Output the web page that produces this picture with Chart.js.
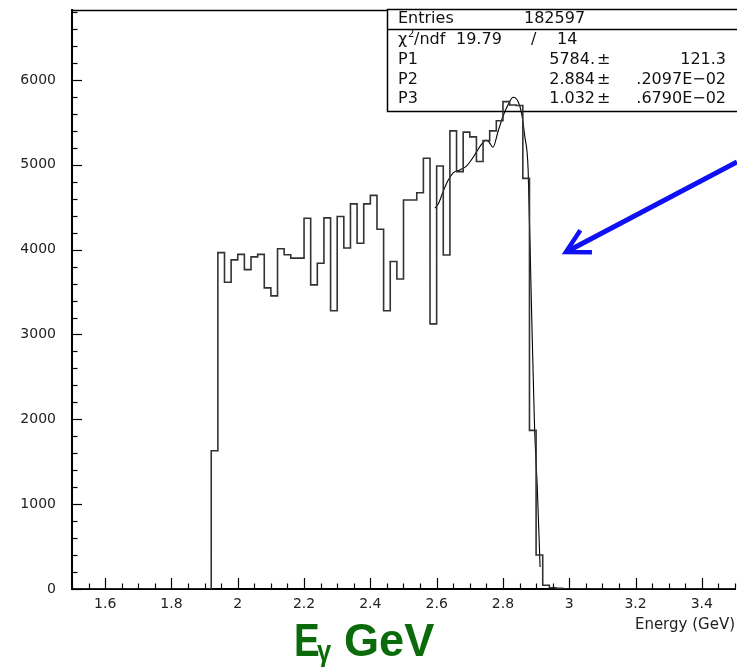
<!DOCTYPE html>
<html><head><meta charset="utf-8">
<script src="https://cdn.jsdelivr.net/npm/chart.js@4.4.0/dist/chart.umd.min.js"></script>
<style>html,body{margin:0;padding:0;background:#fff;}canvas{display:block;}</style>
</head><body>
<canvas id="c" width="737" height="667" style="width:737px;height:667px"></canvas>
<script>
// ---- data ----
const binLowEdges = [1.92,1.94,1.96,1.98,2.00,2.02,2.04,2.06,2.08,2.10,2.12,2.14,2.16,2.18,
  2.20,2.22,2.24,2.26,2.28,2.30,2.32,2.34,2.36,2.38,2.40,2.42,2.44,2.46,2.48,
  2.50,2.52,2.54,2.56,2.58,2.60,2.62,2.64,2.66,2.68,2.70,2.72,2.74,2.76,2.78,
  2.80,2.82,2.84,2.86,2.88,2.90,2.92,2.94,2.96];
const binCounts = [1630,3965,3615,3880,3945,3765,3915,3945,3550,3455,4010,3940,3900,3900,
  4370,3585,3840,4375,3280,4390,4020,4540,4075,4540,4640,4240,3280,3860,3655,
  4586,4586,4670,5077,3125,4986,3937,5400,4920,5385,5330,5040,5285,5400,5520,
  5745,5705,5700,4840,1870,400,45,15,8];
const binWidth = 0.02;
const fitEnergy = [2.595,2.605,2.62,2.635,2.65,2.67,2.69,2.705,2.72,2.735,2.748,2.757,2.770,
  2.785,2.80,2.815,2.831,2.846,2.856,2.866,2.876,2.885,2.895,2.904,2.912];
const fitValues = [4490,4540,4690,4820,4905,4940,4985,5060,5150,5240,5290,5275,5207,
  5390,5570,5705,5796,5744,5608,5332,4939,3500,1950,1150,260];
const xTickLabels = [1.6,1.8,2.0,2.2,2.4,2.6,2.8,3.0,3.2,3.4];
const yTickLabels = [0,1000,2000,3000,4000,5000,6000];
const xRange = [1.5, 3.5];
const yMax = 6825;
const statsEntries = ['Entries', '182597'];
const statsChi = ['19.79', '/', '14'];
const statsParams = [['P1','5784.','121.3'],['P2','2.884','.2097E\u221202'],['P3','1.032','.6790E\u221202']];
const arrowFrom = {x: 3.506, y: 5034};
const arrowTo = {x: 2.99, y: 3973};
const xAxisTitle = 'Energy (GeV)';

// ---- build datasets ----
const histData = [{x: xRange[0], y: 0}];
binLowEdges.forEach((e, i) => histData.push({x: e, y: binCounts[i]}));
histData.push({x: binLowEdges[binLowEdges.length - 1] + binWidth, y: 0});
histData.push({x: xRange[1], y: 0});
const fitData = fitEnergy.map((e, i) => ({x: e, y: fitValues[i]}));

const TXT = '#222';
const tickFont = {family: 'DejaVu Sans', size: 14};

const decor = {
  id: 'decor',
  beforeDatasetsDraw(chart) {
    const {ctx, chartArea: ca} = chart;
    ctx.save();
    // top frame
    ctx.strokeStyle = '#000'; ctx.lineWidth = 1.5;
    ctx.beginPath(); ctx.moveTo(ca.left, ca.top + 0.5); ctx.lineTo(ca.right + 2, ca.top + 0.5); ctx.stroke();
    // stats box
    const bx = 387, by = 9, bw = 352, bh = 102;
    ctx.fillStyle = '#fff';
    ctx.fillRect(bx, by, bw, bh);
    ctx.strokeStyle = '#000'; ctx.lineWidth = 1.5;
    ctx.strokeRect(bx + 0.5, by + 0.5, bw, bh);
    ctx.beginPath(); ctx.moveTo(bx, 29.5); ctx.lineTo(bx + bw, 29.5); ctx.stroke();
    ctx.fillStyle = '#111';
    ctx.font = '16px "DejaVu Sans"';
    ctx.textBaseline = 'middle';
    ctx.textAlign = 'left';
    ctx.fillText(statsEntries[0], 398, 19);
    ctx.fillText(statsEntries[1], 524, 19);
    // chi2 row
    ctx.fillText('\u03c7', 398, 40);
    ctx.font = '10px "DejaVu Sans"';
    ctx.fillText('2', 408, 34);
    ctx.font = '16px "DejaVu Sans"';
    ctx.fillText('/ndf', 414, 40);
    ctx.fillText(statsChi[0], 456, 40);
    ctx.fillText(statsChi[1], 531, 40);
    ctx.fillText(statsChi[2], 557, 40);
    statsParams.forEach((r, i) => {
      const y = 60 + i * 19.5;
      ctx.textAlign = 'left';
      ctx.fillText(r[0], 398, y);
      ctx.textAlign = 'right';
      ctx.fillText(r[1], 595, y);
      ctx.textAlign = 'left';
      ctx.fillText('\u00b1', 597, y);
      ctx.textAlign = 'right';
      ctx.fillText(r[2], 726, y);
    });
    ctx.restore();
  },
  afterDraw(chart) {
    const {ctx, chartArea: ca, scales: {x, y}} = chart;
    ctx.save();
    ctx.strokeStyle = '#000'; ctx.lineWidth = 1.2;
    // x ticks (inside)
    for (let v = xRange[0]; v <= xRange[1] + 1e-9; v += 0.05) {
      const q = v / 0.2, major = Math.abs(q - Math.round(q)) < 1e-6;
      const px = Math.round(x.getPixelForValue(v)) + 0.5;
      ctx.beginPath(); ctx.moveTo(px, ca.bottom); ctx.lineTo(px, ca.bottom - (major ? 11 : 5.5)); ctx.stroke();
    }
    // y ticks (inside)
    for (let v = 0; v <= yMax; v += 200) {
      const major = v % 1000 === 0;
      const py = Math.round(y.getPixelForValue(v)) + 0.5;
      ctx.beginPath(); ctx.moveTo(ca.left, py); ctx.lineTo(ca.left + (major ? 10 : 5.5), py); ctx.stroke();
    }
    // arrow
    const x0 = x.getPixelForValue(arrowFrom.x), y0 = y.getPixelForValue(arrowFrom.y);
    const x1 = x.getPixelForValue(arrowTo.x), y1 = y.getPixelForValue(arrowTo.y);
    ctx.strokeStyle = '#1010f5'; ctx.lineWidth = 5; ctx.lineCap = 'butt';
    ctx.beginPath(); ctx.moveTo(x0, y0); ctx.lineTo(x1 + 3, y1 - 1.5); ctx.stroke();
    const ang = Math.atan2(y0 - y1, x0 - x1);
    const L = 26, spread = 0.5;
    ctx.lineJoin = 'miter';
    ctx.lineWidth = 4.5;
    ctx.beginPath();
    ctx.moveTo(x1 + L * Math.cos(ang - spread), y1 + L * Math.sin(ang - spread));
    ctx.lineTo(x1, y1);
    ctx.lineTo(x1 + L * Math.cos(ang + spread), y1 + L * Math.sin(ang + spread));
    ctx.stroke();
    // E_gamma GeV label
    ctx.fillStyle = '#0b6b0b';
    ctx.textBaseline = 'alphabetic';
    ctx.textAlign = 'left';
    const drawCond = (t, px, py, size, sx) => {
      ctx.save();
      ctx.translate(px, py); ctx.scale(sx, 1);
      ctx.font = 'bold ' + size + 'px "Liberation Sans"';
      ctx.fillText(t, 0, 0);
      ctx.restore();
    };
    drawCond('E', 294, 656, 47, 0.82);
    drawCond('\u03b3', 317, 661, 30, 0.85);
    drawCond('GeV', 344, 656, 47, 0.96);
    ctx.restore();
  }
};

new Chart(document.getElementById('c'), {
  type: 'line',
  data: {
    datasets: [
      {label: 'hist', data: histData, stepped: 'before', borderColor: '#333', borderWidth: 1.6,
       pointRadius: 0, fill: false, tension: 0},
      {label: 'fit', data: fitData, borderColor: '#000', borderWidth: 1.1, pointRadius: 0,
       fill: false, tension: 0.4, cubicInterpolationMode: 'monotone'}
    ]
  },
  options: {
    responsive: false, animation: false, devicePixelRatio: 1,
    layout: {padding: {top: 10, right: 2, left: 0, bottom: 0}},
    plugins: {legend: {display: false}, tooltip: {enabled: false}},
    scales: {
      x: {
        type: 'linear', min: xRange[0], max: xRange[1],
        afterFit(s) { s.height = 78; s.paddingLeft = 0; s.paddingRight = 0; },
        afterBuildTicks(s) { s.ticks = xTickLabels.map(v => ({value: v})); },
        grid: {display: false, drawTicks: false},
        border: {display: true, color: '#000', width: 2},
        ticks: {color: TXT, font: tickFont, padding: 7, maxRotation: 0, autoSkip: false,
                callback: v => String(Math.round(v * 10) / 10)},
        title: {display: true, text: xAxisTitle, align: 'end', color: TXT,
                font: {family: 'DejaVu Sans', size: 15}, padding: {top: 0, bottom: 33}}
      },
      y: {
        type: 'linear', min: 0, max: yMax,
        afterFit(s) { s.width = 72; s.paddingTop = 0; s.paddingBottom = 0; },
        afterBuildTicks(s) { s.ticks = yTickLabels.map(v => ({value: v})); },
        grid: {display: false, drawTicks: false},
        border: {display: true, color: '#000', width: 2},
        ticks: {color: TXT, font: tickFont, padding: 16, autoSkip: false,
                callback: v => String(v)}
      }
    }
  },
  plugins: [decor]
});
</script>
</body></html>
